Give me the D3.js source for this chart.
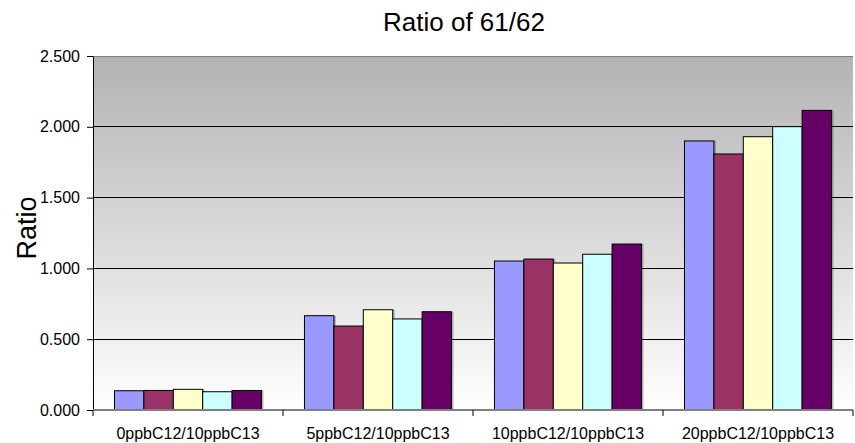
<!DOCTYPE html>
<html><head><meta charset="utf-8">
<script src="https://cdn.jsdelivr.net/npm/d3@7"></script>
<style>body{margin:0;background:#fff;} text{font-family:Arial,"Liberation Sans",sans-serif;}</style>
</head><body><svg id="c" width="855" height="443"></svg>
<script>
const categories = ["0ppbC12/10ppbC13","5ppbC12/10ppbC13","10ppbC12/10ppbC13","20ppbC12/10ppbC13"];
const series1 = [0.136, 0.666, 1.052, 1.900];
const series2 = [0.138, 0.593, 1.066, 1.808];
const series3 = [0.146, 0.708, 1.038, 1.930];
const series4 = [0.129, 0.643, 1.100, 2.001];
const series5 = [0.138, 0.694, 1.172, 2.116];
const yTicks = [0, 0.5, 1.0, 1.5, 2.0, 2.5];
const colors = ["#9999FF","#993366","#FFFFCC","#CCFFFF","#660066"];
const allSeries = [series1, series2, series3, series4, series5];

const svg = d3.select("#c");
const L = 93, R = 853, T = 56, B = 410;
const x = d3.scaleBand().domain(categories).range([L, R]).paddingInner(0).paddingOuter(0);
const x1 = d3.scaleBand().domain(d3.range(5)).range([0, x.bandwidth()]).paddingOuter(0.73).paddingInner(0);
const y = d3.scaleLinear().domain([0, 2.5]).range([B, T]);

const defs = svg.append("defs");
const g = defs.append("linearGradient").attr("id","bg").attr("x1",0).attr("y1",0).attr("x2",0).attr("y2",1);
g.append("stop").attr("offset","0%").attr("stop-color","#b3b3b3");
g.append("stop").attr("offset","100%").attr("stop-color","#ffffff");

svg.append("rect").attr("x",L).attr("y",T).attr("width",R-L).attr("height",B-T).attr("fill","url(#bg)");

// gridlines
svg.append("g").selectAll("line").data(yTicks.filter(d=>d>0 && d<2.5)).join("line")
  .attr("x1",L).attr("x2",R).attr("y1",d=>y(d)).attr("y2",d=>y(d)).attr("stroke","#000").attr("stroke-width",1).attr("shape-rendering","crispEdges");
svg.append("line").attr("x1",L).attr("x2",R).attr("y1",y(2.5)).attr("y2",y(2.5)).attr("stroke","#808080").attr("stroke-width",1).attr("shape-rendering","crispEdges");

// bars
const groups = svg.append("g").selectAll("g").data(categories).join("g")
  .attr("transform", c=>`translate(${x(c)},0)`);
groups.each(function(c, ci){
  const gg = d3.select(this);
  allSeries.forEach((s, si)=>{
    const v = s[ci];
    gg.append("rect").attr("x", x1(si)+2).attr("y", y(v)-2+2).attr("width", x1.bandwidth()).attr("height", B - y(v))
      .attr("fill","#000").attr("opacity",0.25);
  });
  allSeries.forEach((s, si)=>{
    const v = s[ci];
    gg.append("rect").attr("x", x1(si)).attr("y", y(v)).attr("width", x1.bandwidth()).attr("height", B - y(v))
      .attr("fill", colors[si]).attr("stroke","#000").attr("stroke-width",1);
  });
});

// y axis
const yAxis = d3.axisLeft(y).tickValues(yTicks).tickFormat(d3.format(".3f")).tickSize(6).tickPadding(7);
const ya = svg.append("g").attr("transform",`translate(${L},0)`).call(yAxis);
ya.select(".domain").attr("stroke","#000");
ya.selectAll("text").attr("font-size",16).attr("fill","#000").attr("font-family","Arial, 'Liberation Sans', sans-serif");

// x axis
const xa = svg.append("g").attr("transform",`translate(0,${B})`);
xa.append("line").attr("x1",L).attr("x2",R).attr("y1",0).attr("y2",0).attr("stroke","#808080").attr("stroke-width",2);
xa.selectAll("line.tk").data(d3.range(categories.length+1)).join("line").attr("class","tk")
  .attr("x1",i=>L + i*x.bandwidth()).attr("x2",i=>L + i*x.bandwidth()).attr("y1",0).attr("y2",6).attr("stroke","#000");
xa.selectAll("text").data(categories).join("text")
  .attr("x",c=>x(c)+x.bandwidth()/2).attr("y",29).attr("text-anchor","middle").attr("font-size",16).attr("fill","#000").text(c=>c);

// title
svg.append("text").attr("x",464).attr("y",31).attr("text-anchor","middle").attr("font-size",26).text("Ratio of 61/62");
svg.append("text").attr("transform","translate(36,228) rotate(-90)").attr("text-anchor","middle").attr("font-size",27).text("Ratio");
</script></body></html>
